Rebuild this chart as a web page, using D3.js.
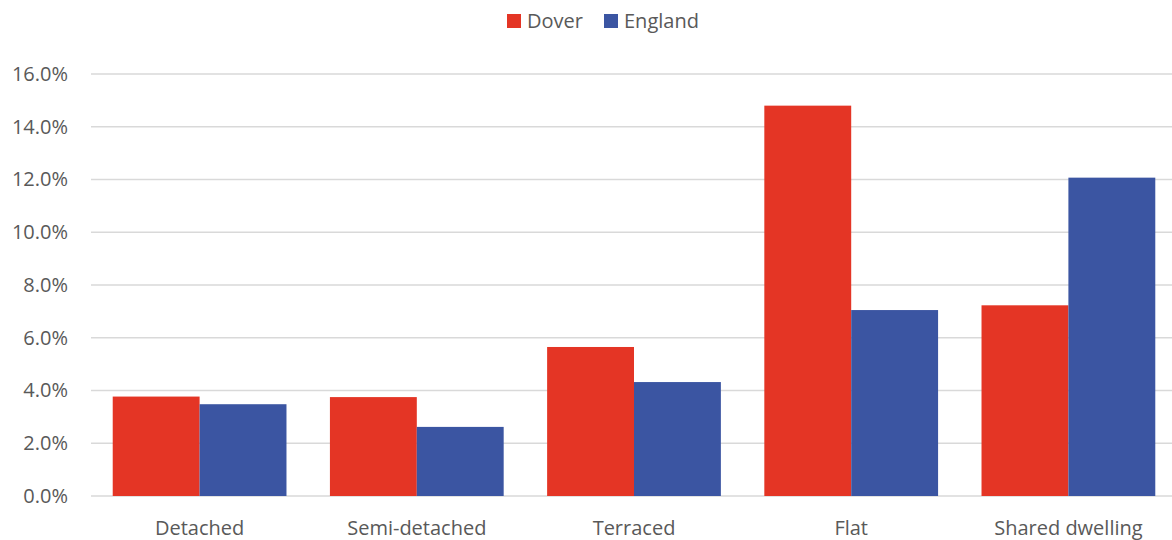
<!DOCTYPE html>
<html>
<head>
<meta charset="utf-8">
<script src="https://cdn.jsdelivr.net/npm/d3@7"></script>
<style>
  body { margin: 0; background: #fff; }
  text { font-family: "Open Sans", sans-serif; fill: #595959; }
</style>
</head>
<body>
<svg id="chart" width="1172" height="540"></svg>
<script>
// data
const categories = ['Detached', 'Semi-detached', 'Terraced', 'Flat', 'Shared dwelling']
const seriesNames = ['Dover', 'England']
const dover = [3.77, 3.75, 5.65, 14.8, 7.23]
const england = [3.48, 2.62, 4.32, 7.05, 12.07]
const yTicks = [0, 2, 4, 6, 8, 10, 12, 14, 16]

const colors = ['#E43525', '#3B55A2']
const width = 1172
const height = 540
const margin = {top: 74, right: -5, bottom: 44, left: 91}

let svg = d3.select('#chart')

let x = d3.scaleBand().domain(categories)
    .range([margin.left, width - margin.right])
    .paddingInner(0.2).paddingOuter(0.1)
let xSub = d3.scaleBand().domain(seriesNames).range([0, x.bandwidth()])
let y = d3.scaleLinear().domain([0, 16]).range([height - margin.bottom, margin.top])

// gridlines
svg.append('g').selectAll('line').data(yTicks).join('line')
    .attr('x1', margin.left).attr('x2', width)
    .attr('y1', d => y(d)).attr('y2', d => y(d))
    .attr('stroke', '#d9d9d9').attr('stroke-width', 1.3)

// y axis labels
let yAxis = svg.append('g').attr('transform', 'translate(68,0)')
    .call(d3.axisLeft(y).tickValues(yTicks).tickSize(0).tickPadding(0).tickFormat(d => d.toFixed(1) + '%'))
yAxis.select('.domain').remove()
yAxis.selectAll('text').attr('font-size', 20).attr('fill', '#595959')
    .attr('font-family', '"Open Sans", sans-serif')

// bars
let rows = categories.map((c, i) => ({cat: c, vals: [dover[i], england[i]]}))
let groups = svg.append('g').selectAll('g').data(rows).join('g')
    .attr('transform', d => 'translate(' + x(d.cat) + ',0)')
groups.selectAll('rect').data(d => d.vals.map((v, j) => ({name: seriesNames[j], v: v, j: j}))).join('rect')
    .attr('x', d => xSub(d.name))
    .attr('width', xSub.bandwidth())
    .attr('y', d => y(d.v))
    .attr('height', d => y(0) - y(d.v))
    .attr('fill', d => colors[d.j])

// x axis labels
let xAxis = svg.append('g').attr('transform', 'translate(0,' + y(0) + ')')
    .call(d3.axisBottom(x).tickSize(0))
xAxis.select('.domain').remove()
xAxis.selectAll('text').attr('font-size', 20).attr('fill', '#595959')
    .attr('font-family', '"Open Sans", sans-serif').attr('dy', '1.78em')

// legend
let legend = svg.append('g')
let legX = [507, 604]
seriesNames.forEach((name, i) => {
    legend.append('rect').attr('x', legX[i]).attr('y', 14).attr('width', 14).attr('height', 14).attr('fill', colors[i])
    legend.append('text').attr('x', legX[i] + 20).attr('y', 21).attr('dy', '0.35em')
        .attr('font-size', 20).text(name)
})
</script>
</body>
</html>
